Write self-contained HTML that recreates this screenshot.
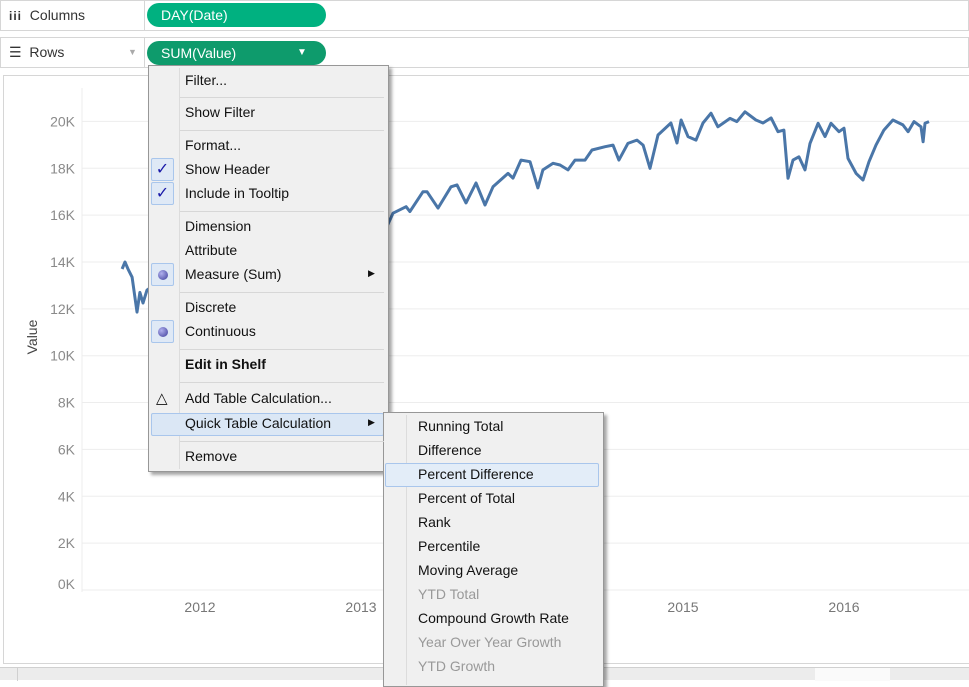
<!DOCTYPE html>
<html><head><meta charset="utf-8">
<style>
*{box-sizing:border-box;margin:0;padding:0}
body{width:969px;height:680px;overflow:hidden;background:#fff;font-family:"Liberation Sans",sans-serif;position:relative}
.abs{position:absolute}
.shelf{position:absolute;left:0;width:969px;height:31px;border:1px solid #d6d6d6;background:#fff}
.shelf-label{position:absolute;left:0;top:0;width:144px;height:29px;border-right:1px solid #d6d6d6;font-size:14px;color:#333;line-height:29px;padding-left:8px}
.pill{position:absolute;left:147px;width:179px;height:24px;border-radius:12px;color:#fff;font-size:14px;line-height:24px;padding-left:14px}
.menu{position:absolute;background:#f0f0f0;border:1px solid #979797;box-shadow:3px 3px 3px rgba(0,0,0,0.35)}
.mi{position:absolute;font-size:14px;color:#111;white-space:nowrap}
.sep{position:absolute;height:1px;background:#d7d7d7}
.chk{position:absolute;width:23px;height:23px;border:1px solid #a9c6ec;background:#dfe9f6;border-radius:2px;text-align:center;line-height:22px;color:#1a1aa8;font-size:16px}
.dot{position:absolute;left:6px;top:6px;width:10px;height:10px;border-radius:50%;background:radial-gradient(circle at 35% 35%,#b0b0ee,#3c3c99)}
</style></head><body>
<div class="shelf" style="top:0">
  <div class="shelf-label"><span style="font-weight:bold;font-size:12px;letter-spacing:1px">iii</span>&nbsp; Columns</div>
</div>
<div class="pill" style="top:3px;background:#00b180">DAY(Date)</div>
<div class="shelf" style="top:37px">
  <div class="shelf-label">☰&nbsp; Rows<span style="position:absolute;left:127px;color:#aaa;font-size:9px">▼</span></div>
</div>
<div class="pill" style="top:41px;background:#0e9b6c">SUM(Value)<span style="position:absolute;left:150px;font-size:10px">▼</span></div>

<div class="abs" style="left:3px;top:75px;width:966px;height:589px;border:1px solid #d6d6d6;border-right:none"></div>
<div class="abs" style="left:0;top:667px;width:969px;height:13px;background:#ececec;border-top:1px solid #d0d0d0">
 <div class="abs" style="left:17px;top:0;width:1px;height:13px;background:#d0d0d0"></div>
 <div class="abs" style="left:815px;top:0;width:75px;height:13px;background:#fafafa"></div>
</div>

<svg class="abs" style="left:0;top:0" width="969" height="680" id="chart"></svg>

<div class="menu" style="left:148px;top:65px;width:241px;height:407px">
 <div class="abs" style="left:30px;top:2px;width:1px;height:401px;background:#dcdcdc"></div>
</div>
<div class="abs" style="left:151px;top:413px;width:233px;height:23px;background:#dbe7f5;border:1px solid #a9c6ec;border-radius:2px"></div>
<div id="menuitems"></div>

<div class="menu" style="left:383px;top:412px;width:221px;height:275px">
 <div class="abs" style="left:22px;top:2px;width:1px;height:270px;background:#dcdcdc"></div>
</div>
<div class="abs" style="left:385px;top:463px;width:214px;height:24px;background:#e3edf8;border:1px solid #a9c6ec;border-radius:2px"></div>

<div class="mi" style="left:185px;top:72px">Filter...</div>
<div class="sep" style="left:180px;top:97px;width:204px"></div>
<div class="mi" style="left:185px;top:104px">Show Filter</div>
<div class="sep" style="left:180px;top:130px;width:204px"></div>
<div class="mi" style="left:185px;top:137px">Format...</div>
<div class="chk" style="left:151px;top:158px">✓</div>
<div class="mi" style="left:185px;top:161px">Show Header</div>
<div class="chk" style="left:151px;top:182px">✓</div>
<div class="mi" style="left:185px;top:185px">Include in Tooltip</div>
<div class="sep" style="left:180px;top:211px;width:204px"></div>
<div class="mi" style="left:185px;top:218px">Dimension</div>
<div class="mi" style="left:185px;top:242px">Attribute</div>
<div class="chk" style="left:151px;top:263px"><div class="dot"></div></div>
<div class="mi" style="left:185px;top:266px">Measure (Sum)</div>
<div class="mi" style="left:368px;top:268px;font-size:9px">▶</div>
<div class="sep" style="left:180px;top:292px;width:204px"></div>
<div class="mi" style="left:185px;top:299px">Discrete</div>
<div class="chk" style="left:151px;top:320px"><div class="dot"></div></div>
<div class="mi" style="left:185px;top:323px">Continuous</div>
<div class="sep" style="left:180px;top:349px;width:204px"></div>
<div class="mi" style="left:185px;top:356px;font-weight:bold">Edit in Shelf</div>
<div class="sep" style="left:180px;top:382px;width:204px"></div>
<div class="mi" style="left:156px;top:389px;font-size:15px">△</div>
<div class="mi" style="left:185px;top:390px">Add Table Calculation...</div>
<div class="mi" style="left:185px;top:415px">Quick Table Calculation</div>
<div class="mi" style="left:368px;top:417px;font-size:9px">▶</div>
<div class="sep" style="left:180px;top:441px;width:204px"></div>
<div class="mi" style="left:185px;top:448px">Remove</div>

<div class="mi" style="left:418px;top:418px">Running Total</div>
<div class="mi" style="left:418px;top:442px">Difference</div>
<div class="mi" style="left:418px;top:466px">Percent Difference</div>
<div class="mi" style="left:418px;top:490px">Percent of Total</div>
<div class="mi" style="left:418px;top:514px">Rank</div>
<div class="mi" style="left:418px;top:538px">Percentile</div>
<div class="mi" style="left:418px;top:562px">Moving Average</div>
<div class="mi" style="left:418px;top:586px;color:#999">YTD Total</div>
<div class="mi" style="left:418px;top:610px">Compound Growth Rate</div>
<div class="mi" style="left:418px;top:634px;color:#999">Year Over Year Growth</div>
<div class="mi" style="left:418px;top:658px;color:#999">YTD Growth</div>

<script>
const yTicks=[0,2000,4000,6000,8000,10000,12000,14000,16000,18000,20000];
const yTickLabels=["0K","2K","4K","6K","8K","10K","12K","14K","16K","18K","20K"];
const xTicks=[2012,2013,2014,2015,2016];
const xTickLabels=["2012","2013","2014","2015","2016"];
const dates=[2011.516,2011.534,2011.553,2011.578,2011.609,2011.627,2011.646,2011.671,2011.752,2012.0,2012.248,2012.497,2012.745,2012.994,2013.165,2013.199,2013.28,2013.304,2013.385,2013.41,2013.478,2013.559,2013.596,2013.652,2013.714,2013.77,2013.82,2013.913,2013.944,2013.994,2014.05,2014.099,2014.13,2014.193,2014.236,2014.286,2014.329,2014.391,2014.435,2014.516,2014.565,2014.602,2014.658,2014.714,2014.752,2014.795,2014.845,2014.925,2014.963,2014.988,2015.031,2015.081,2015.124,2015.174,2015.217,2015.292,2015.335,2015.385,2015.453,2015.497,2015.547,2015.59,2015.627,2015.652,2015.683,2015.72,2015.758,2015.789,2015.839,2015.882,2015.919,2015.969,2016.0,2016.025,2016.075,2016.118,2016.155,2016.199,2016.248,2016.304,2016.366,2016.398,2016.435,2016.478,2016.491,2016.503,2016.528];
const values=[13700,14000,13700,13350,11860,12700,12250,12800,13200,13600,13300,14300,14600,15300,15580,16080,16360,16150,17000,17000,16300,17210,17290,16520,17370,16430,17210,17780,17580,18350,18280,17160,17930,18210,18140,17930,18350,18350,18780,18920,18990,18350,19060,19200,18990,18000,19420,19930,19080,20060,19350,19200,19930,20350,19770,20130,19990,20410,20060,19930,20150,19560,19630,17570,18350,18490,17930,19060,19920,19350,19920,19560,19710,18420,17780,17500,18280,18990,19630,20060,19850,19560,19990,19770,19130,19920,19990];
const svg=document.getElementById('chart');
const NS='http://www.w3.org/2000/svg';
const yS=v=>590-v*0.023430;
const xS=t=>200+(t-2012)*161;
function mk(tag,attrs){const e=document.createElementNS(NS,tag);for(const k in attrs)e.setAttribute(k,attrs[k]);svg.appendChild(e);return e;}
let ax=mk('line',{x1:82,x2:82,y1:88,y2:592,stroke:'#ececec'});


yTicks.forEach((v,i)=>{
 const g=mk('line',{x1:82,x2:969,y1:yS(v),y2:yS(v),stroke:'#ededed'});
 
 
 const t=mk('text',{x:75,y:(v===0?yS(v)-6:yS(v))+5,'text-anchor':'end','font-size':'14','fill':'#8a8a8a','font-family':'Liberation Sans, sans-serif'});
 t.textContent=yTickLabels[i];
 
 
});
xTicks.forEach((v,i)=>{
 const t=mk('text',{x:xS(v),y:612,'text-anchor':'middle','font-size':'14','fill':'#777','font-family':'Liberation Sans, sans-serif'});
 t.textContent=xTickLabels[i];
 
 
});
const yt=mk('text',{x:0,y:0,transform:'translate(37,337) rotate(-90)','text-anchor':'middle','font-size':'14','fill':'#444','font-family':'Liberation Sans, sans-serif'});
yt.textContent='Value';


const d=dates.map((t,i)=>(i?'L':'M')+xS(t).toFixed(1)+','+yS(values[i]).toFixed(1)).join(' ');
const p=mk('path',{d:d,fill:'none',stroke:'#4a76a8','stroke-width':'3','stroke-linejoin':'round'});


</script>
</body></html>
